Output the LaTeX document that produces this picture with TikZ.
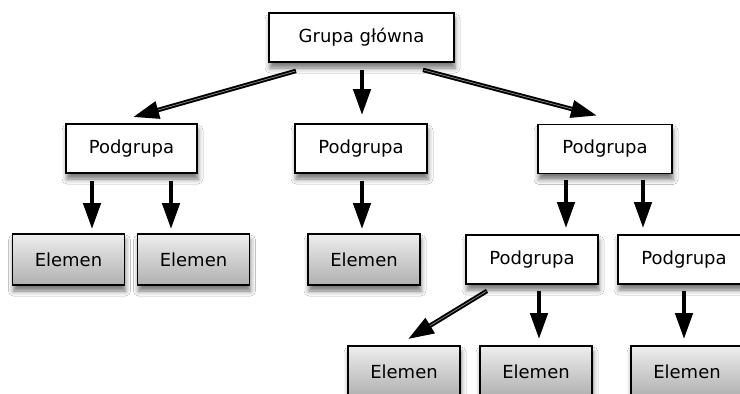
\documentclass[tikz,border=0pt]{standalone}
\usepackage{fontspec}
\setmainfont{DejaVu Sans}
\usetikzlibrary{arrows.meta,calc,shadows.blur}
\begin{document}
\begin{tikzpicture}[x=1pt,y=-1pt,
  box/.style={draw=black, line width=1.8pt, fill=white, inner sep=0pt,
    minimum height=49pt, font=\fontsize{18}{22}\selectfont,
    blur shadow={shadow xshift=1pt, shadow yshift=-6pt,
      shadow blur radius=5pt, shadow opacity=55}},
  groupbox/.style={box, minimum width=#1},
  itembox/.style={box, minimum width=112pt, minimum height=51pt,
    top color=gray!14, bottom color=gray!62},
  arr/.style={line width=4.5pt, -{Triangle[length=26pt,width=17pt]}},
  darr/.style={arr, postaction={draw, -, white!55!black, line width=0.7pt, shorten >=26pt, shorten <=1pt}}
]
\useasboundingbox (0,0) rectangle (740,394);
\fill[white] (0,0) rectangle (740,394);
\clip (0,0) rectangle (740,394);

% top level
\node[groupbox=185pt] (top) at (361.5,37.5) {Grupa główna};

% second level
\node[groupbox=131pt] (p1) at (131.5,148.5) {Podgrupa};
\node[groupbox=132pt] (p2) at (361,148.5) {Podgrupa};
\node[groupbox=134pt] (p3) at (605,149) {Podgrupa};

% elements under the first two groups
\node[itembox] (e1) at (68.5,259.5) {Elemen};
\node[itembox] (e2) at (193.5,259.5) {Elemen};
\node[itembox] (e3) at (364,259.5) {Elemen};

% third level
\node[groupbox=132pt] (p4) at (532,259.5) {Podgrupa};
\node[groupbox=132pt] (p5) at (684,259.5) {Podgrupa};

% bottom elements
\node[itembox] (e4) at (404,371.5) {Elemen};
\node[itembox] (e5) at (536,371.5) {Elemen};
\node[itembox] (e6) at (687,371.5) {Elemen};

% connectors
\draw[darr] ($(top.south)+(-65.5,8)$) -- ($(p1.north)+(1.5,-6)$);
\draw[arr]  ($(top.south)+(0.5,7)$)   -- ($(p2.north)+(1,-8)$);
\draw[darr] ($(top.south)+(61.5,7)$)  -- ($(p3.north)+(-8,-8)$);

\draw[arr] ($(p1.south)+(-39.5,7)$) -- ($(e1.north)+(23.5,-4)$);
\draw[arr] ($(p1.south)+(39.5,7)$)  -- ($(e2.north)+(-22.5,-4)$);
\draw[arr] ($(p2.south)+(1,7)$)     -- ($(e3.north)+(-2,-4)$);
\draw[arr] ($(p3.south)+(-39,6)$)   -- ($(p4.north)+(34,-6)$);
\draw[arr] ($(p3.south)+(38,6)$)    -- ($(p5.north)+(-41,-6)$);

\draw[darr] ($(p4.south)+(-45,6)$) -- ($(e4.north)+(4,-6)$);
\draw[arr]  ($(p4.south)+(7,6)$)   -- ($(e5.north)+(3,-6)$);
\draw[arr]  ($(p5.south)+(0,6)$)   -- ($(e6.north)+(-3,-6)$);
\end{tikzpicture}
\end{document}
